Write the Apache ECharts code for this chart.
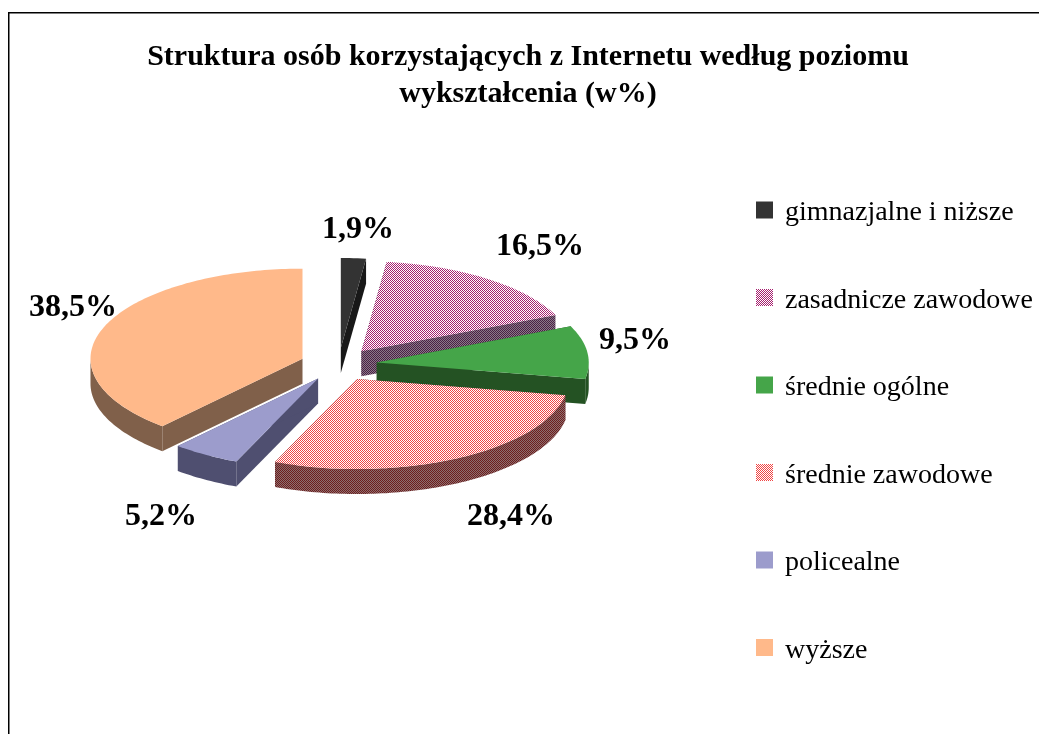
<!DOCTYPE html>
<html>
<head>
<meta charset="utf-8">
<style>html,body{margin:0;padding:0;background:#fff}#c{width:1039px;height:734px}</style>
<script src="https://cdn.jsdelivr.net/npm/echarts@6/dist/echarts.min.js"></script>
</head>
<body>
<div id="c"></div>
<script>
// ---- data ----
var categories = ['gimnazjalne i niższe','zasadnicze zawodowe','średnie ogólne','średnie zawodowe','policealne','wyższe'];
var shares = [1.9, 16.5, 9.5, 28.4, 5.2, 38.5];
var titleLines = ['Struktura osób korzystających z Internetu według poziomu','wykształcenia (w%)'];

// ---- styles / layout ----
var FONT = '"Liberation Serif","Times New Roman",serif';
var topColors = [['#333333'],['#a51f6e','#ffffff'],['#45a549'],['#f04545','#ffffff'],['#9c9ccc'],['#ffb98a']];
var sideColors = [['#181818'],['#4a1f45','#8a7a88'],['#245223'],['#6e1c1c','#8c7070'],['#4f4f70'],['#80604a']];
var labelPositions = [[358,230],[540,247],[635,341],[511,517],[161,517],[73,308]];
var CX = 338.5, CY = 364.5, RX = 212, RY = 90, EX = 38.5, EY = 16.5, DEPTH = 25;

function fillOf(colors) {
  if (colors.length === 1) return colors[0];
  var cv = document.createElement('canvas');
  cv.width = 2; cv.height = 2;
  var g = cv.getContext('2d');
  g.fillStyle = colors[1]; g.fillRect(0,0,2,2);
  g.fillStyle = colors[0]; g.fillRect(0,0,1,1); g.fillRect(1,1,1,1);
  return {image: cv, repeat: 'repeat'};
}
var topFills = topColors.map(fillOf);
var sideFills = sideColors.map(fillOf);

var total = shares.reduce(function(a,b){return a+b;},0);
var cumulative = [];
shares.reduce(function(a,b,i){cumulative[i]=a;return a+b;},0);

function renderSlice(index) {
  return function () {
    var a0 = cumulative[index]/total*2*Math.PI;
    var a1 = (cumulative[index]+shares[index])/total*2*Math.PI;
    var mid = (a0+a1)/2;
    var ox = CX + EX*Math.sin(mid), oy = CY - EY*Math.cos(mid);
    function pt(a, dy){ return [ox+RX*Math.sin(a), oy-RY*Math.cos(a)+(dy||0)]; }
    function arc(s, e, dy){
      var n = Math.max(2, Math.ceil(Math.abs(e-s)/0.02)), out = [];
      for (var k=0;k<=n;k++) out.push(pt(s+(e-s)*k/n, dy));
      return out;
    }
    function poly(points, fill){
      return {type:'polygon', shape:{points:points}, style:{fill:fill, stroke:null}};
    }
    var kids = [];
    var apex = [ox,oy], apexB = [ox,oy+DEPTH];
    kids.push(poly([apex,pt(a0),pt(a0,DEPTH),apexB], sideFills[index]));
    kids.push(poly([apex,pt(a1),pt(a1,DEPTH),apexB], sideFills[index]));
    var fs = Math.max(a0, Math.PI/2), fe = Math.min(a1, 1.5*Math.PI);
    if (fe > fs) {
      kids.push(poly(arc(fs,fe,0).concat(arc(fe,fs,DEPTH)), sideFills[index]));
    }
    kids.push(poly([apex].concat(arc(a0,a1,0)), topFills[index]));
    return {type:'group', children:kids};
  };
}

function renderLabel(index) {
  return function () {
    return {type:'text', z2:100, style:{
      x: labelPositions[index][0], y: labelPositions[index][1],
      text: shares[index].toFixed(1).replace('.',',')+'%',
      font: 'bold 32px '+FONT, fill:'#000', align:'center', verticalAlign:'middle'
    }};
  };
}

var series = categories.map(function(name,i){
  return {
    type:'custom', name:name, coordinateSystem:'none', silent:true, animation:false,
    z: 2,
    itemStyle:{color:topFills[i]},
    data:[shares[i]],
    renderItem: renderSlice(i)
  };
}).concat(categories.map(function(name,i){
  return {
    type:'custom', name:name+' (etykieta)', coordinateSystem:'none', silent:true, animation:false,
    z: 3,
    data:[shares[i]],
    renderItem: renderLabel(i)
  };
}));

var chart = echarts.init(document.getElementById('c'), null, {renderer:'canvas'});
chart.setOption({
  backgroundColor:'#ffffff',
  animation:false,
  title:{
    text:titleLines.join('\n'), left:523, top:34, textAlign:'center',
    textStyle:{fontFamily:FONT, fontWeight:'bold', fontSize:30, lineHeight:37, color:'#000'}
  },
  legend:{
    orient:'vertical', left:756, top:199, padding:0, selectedMode:false,
    itemWidth:17, itemHeight:17, itemGap:59.5, icon:'rect',
    data:categories.map(function(n,i){return {name:n, itemStyle:{color:topFills[i]}};}),
    formatter:function(name){ return '{a|'+name+'}'; },
    textStyle:{fontFamily:FONT, fontSize:28, color:'#000',
      rich:{a:{fontFamily:FONT, fontSize:28, color:'#000', height:28, padding:[6,0,0,7]}}}
  },
  graphic:[
    {type:'line', shape:{x1:8.75,y1:12.75,x2:1039,y2:12.75}, style:{stroke:'#000',lineWidth:1.5}, silent:true},
    {type:'line', shape:{x1:8.75,y1:12,x2:8.75,y2:734}, style:{stroke:'#000',lineWidth:1.5}, silent:true}
  ],
  series:series
});
</script>
</body>
</html>
